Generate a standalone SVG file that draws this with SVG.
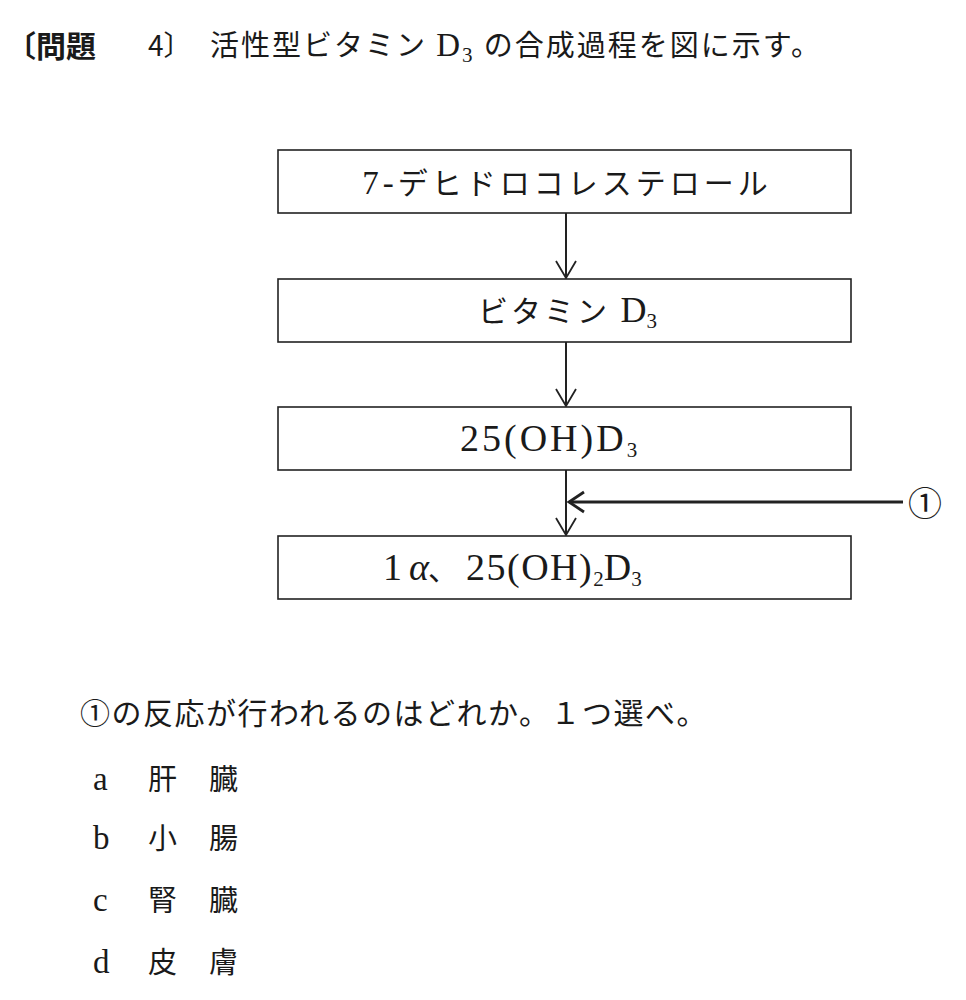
<svg xmlns="http://www.w3.org/2000/svg" width="966" height="1000" viewBox="0 0 966 1000">
<style>
.t{font-family:"Liberation Serif","Noto Sans CJK JP",serif;fill:#1a1a1a}
.g{font-family:"Noto Sans CJK JP","Liberation Sans",sans-serif;fill:#1a1a1a}
.j{font-family:"Noto Sans CJK JP",sans-serif}
.box{fill:#fff;stroke:#222;stroke-width:1.6}
.c{stroke:#222;stroke-width:2;fill:none}
.sub{font-size:21px}
</style>
<defs>
<marker id="ah" markerUnits="userSpaceOnUse" markerWidth="30" markerHeight="30" refX="20" refY="12" orient="auto">
<path d="M3,2 L20,12 L3,22" fill="none" stroke="#222" stroke-width="1.8"/>
</marker>
<marker id="ah2" markerUnits="userSpaceOnUse" markerWidth="30" markerHeight="30" refX="20" refY="12" orient="auto">
<path d="M5,2 L20,12 L5,22" fill="none" stroke="#222" stroke-width="2.8"/>
</marker>
</defs>
<rect width="966" height="1000" fill="#fff"/>
<g id="title">
<text x="6" y="57" class="g" font-size="30" font-weight="bold">〔問題</text>
<text x="148" y="56" class="g" font-size="28">4〕</text>
<text x="210" y="56" class="t" font-size="29" letter-spacing="2">活性型ビタミン <tspan font-size="33">D</tspan><tspan class="sub" dy="6">3</tspan><tspan dy="-6"> の合成過程を図に示す。</tspan></text>
</g>
<g id="connectors">
<line class="c" x1="566" y1="213" x2="566" y2="278" marker-end="url(#ah)"/>
<line class="c" x1="566" y1="342" x2="566" y2="406" marker-end="url(#ah)"/>
<line class="c" x1="566" y1="470" x2="566" y2="535" marker-end="url(#ah)"/>
<line x1="903" y1="502" x2="569" y2="502" stroke="#222" stroke-width="3" marker-end="url(#ah2)"/>
</g>
<g id="n1">
<rect class="box" x="278" y="150" width="573" height="63"/>
<text x="567" y="194" class="t" font-size="30" text-anchor="middle" letter-spacing="4"><tspan font-size="33">7-</tspan>デヒドロコレステロール</text>
</g>
<g id="n2">
<rect class="box" x="278" y="279" width="573" height="63"/>
<text x="478" y="322" class="t" font-size="30" letter-spacing="3">ビタミン <tspan font-size="36" letter-spacing="0">D</tspan><tspan class="sub" dy="6">3</tspan></text>
</g>
<g id="n3">
<rect class="box" x="278" y="407" width="573" height="63"/>
<text x="460" y="451" class="t" font-size="38" letter-spacing="3">25(OH)D<tspan class="sub" dy="6">3</tspan></text>
</g>
<g id="n4">
<rect class="box" x="278" y="536" width="573" height="63"/>
<text y="580" class="t" font-size="38"><tspan x="383">1</tspan><tspan x="409" font-style="italic">α</tspan><tspan x="428" class="j" font-size="30">、</tspan><tspan x="466" letter-spacing="1.5">25(OH)</tspan><tspan class="sub" dy="6">2</tspan><tspan dy="-6">D</tspan><tspan class="sub" dy="6">3</tspan></text>
</g>
<g id="label1">
<text x="925" y="516" class="t" font-size="34" text-anchor="middle">①</text>
</g>
<g id="question">
<text x="80" y="724" class="t" font-size="30" letter-spacing="1.5">①の反応が行われるのはどれか。１つ選べ。</text>
<text x="93" y="790" class="t" font-size="33">a</text>
<text x="148" y="790" class="t" font-size="29">肝</text>
<text x="209" y="790" class="t" font-size="29">臓</text>
<text x="93" y="849" class="t" font-size="33">b</text>
<text x="148" y="849" class="t" font-size="29">小</text>
<text x="209" y="849" class="t" font-size="29">腸</text>
<text x="93" y="911" class="t" font-size="33">c</text>
<text x="148" y="911" class="t" font-size="29">腎</text>
<text x="209" y="911" class="t" font-size="29">臓</text>
<text x="93" y="973" class="t" font-size="33">d</text>
<text x="148" y="973" class="t" font-size="29">皮</text>
<text x="209" y="973" class="t" font-size="29">膚</text>
</g>
</svg>
